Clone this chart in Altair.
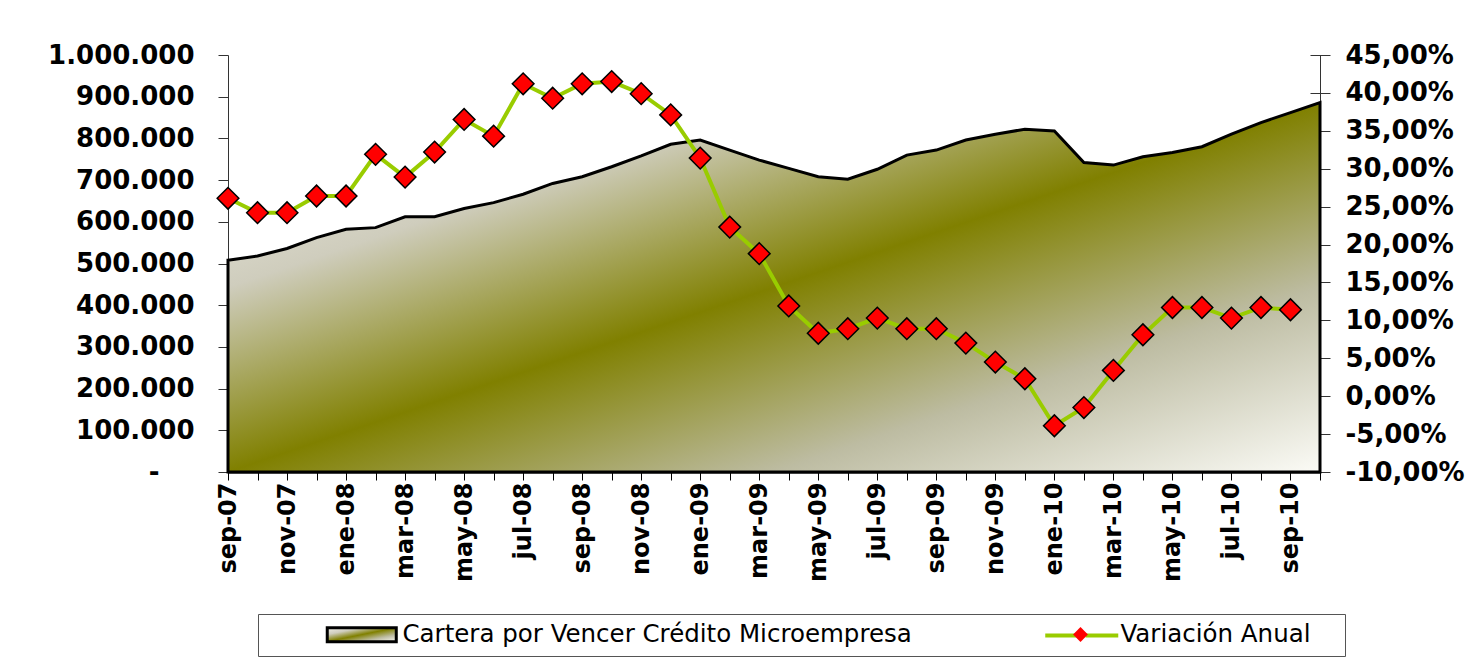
import altair as alt
import pandas as pd

months = ['sep-07', 'oct-07', 'nov-07', 'dic-07', 'ene-08', 'feb-08', 'mar-08', 'abr-08',
          'may-08', 'jun-08', 'jul-08', 'ago-08', 'sep-08', 'oct-08', 'nov-08', 'dic-08',
          'ene-09', 'feb-09', 'mar-09', 'abr-09', 'may-09', 'jun-09', 'jul-09', 'ago-09',
          'sep-09', 'oct-09', 'nov-09', 'dic-09', 'ene-10', 'feb-10', 'mar-10', 'abr-10',
          'may-10', 'jun-10', 'jul-10', 'ago-10', 'sep-10', 'oct-10']
cartera = [508000, 518000, 536000, 562000, 582000, 586000, 612000, 612000,
           632000, 646000, 666000, 692000, 708000, 732000, 758000, 786000,
           796000, 772000, 748000, 728000, 708000, 702000, 726000, 760000,
           772000, 796000, 810000, 822000, 818000, 742000, 736000, 756000,
           766000, 780000, 810000, 838000, 862000, 886000]
variacion = [26.1, 24.2, 24.2, 26.4, 26.4, 31.9, 28.9, 32.2,
             36.5, 34.3, 41.2, 39.3, 41.2, 41.5, 39.9, 37.1,
             31.4, 22.3, 18.8, 11.9, 8.3, 8.9, 10.3, 8.9,
             8.9, 7.0, 4.5, 2.3, -3.9, -1.5, 3.4, 8.1,
             11.7, 11.7, 10.3, 11.7, 11.4, None]
shown_labels = months[::2]
left_ticks = list(range(0, 1000001, 100000))
right_ticks = list(range(-10, 46, 5))

SERIE_A = "Cartera por Vencer Crédito Microempresa"
SERIE_B = "Variación Anual"

df = pd.DataFrame({"mes": months, "cartera": cartera, "variacion": variacion})
df["serie"] = SERIE_B
df["serie_pt"] = SERIE_B

FONT = "DejaVu Sans"
OLIVE_STOPS = [(0.0, "#f2f1ea"), (0.25, "#cfcdbd"), (0.5, "#808000"),
               (0.75, "#bdbca2"), (1.0, "#fbfbf6")]
grad = alt.Gradient(gradient="linear", x1=0, y1=0, x2=1, y2=1,
                    stops=[alt.GradientStop(offset=o, color=c) for o, c in OLIVE_STOPS])
grad_js = ("{gradient: 'linear', x1: 0, y1: 0, x2: 1, y2: 1, stops: ["
           + ", ".join("{offset: %s, color: '%s'}" % (o, c) for o, c in OLIVE_STOPS) + "]}")

shown_js = "[" + ",".join("'%s'" % m for m in shown_labels) + "]"

x_enc = alt.X(
    "mes:O", sort=months, scale=alt.Scale(type="point", padding=0),
    axis=alt.Axis(title=None, labelAngle=270, labelFont=FONT, labelFontWeight="bold",
                  labelFontSize=24, labelColor="black", labelPadding=2, tickSize=8,
                  tickColor="black", domainColor="black", domainWidth=2,
                  labelOverlap=False,
                  labelExpr="indexof(%s, datum.value) >= 0 ? datum.label : ''" % shown_js),
)

area = alt.Chart(df).mark_area(fill=grad, stroke="black", strokeWidth=3).encode(
    x=x_enc,
    y=alt.Y("cartera:Q", scale=alt.Scale(domain=[0, 1000000], nice=False),
            axis=alt.Axis(title=None, values=left_ticks, grid=False,
                          labelExpr="datum.value == 0 ? '-' : join(split(format(datum.value, ','), ','), '.')",
                          labelFont=FONT, labelFontWeight="bold", labelFontSize=26,
                          labelColor="black", tickSize=10, tickColor="#333",
                          domainColor="#333",
                          labelPadding={"condition": {"test": "datum.value == 0", "value": 59},
                                        "value": 24})),
)

U = 7.0  # legend symbol unit (sqrt(symbolSize)/2)
a0, a1 = 49 / U, 118 / U
pathA = "M%.2f,-1H%.2fV1H%.2fZ" % (a0, a1, a0)
b1 = a0 + 73 / U
bc = a0 + 36.5 / U
b_end = 332 / U  # extends the legend frame to the right without drawing
pathB = "M%.2f,0H%.2fM%.2f,0H%.2fM%.2f,0" % (a0, bc - 0.55, bc + 0.55, b1, b_end)
testA = "datum.value === '%s'" % SERIE_A

main_legend = alt.Legend(
    title=None, orient="none", legendX=30, legendY=559, direction="horizontal",
    padding=8, strokeColor="#555", labelFont=FONT, labelFontSize=24.5, labelColor="black",
    symbolSize=196, labelOffset=112, columnPadding=72, labelLimit=1000,
    symbolType=alt.ExprRef(expr="%s ? '%s' : '%s'" % (testA, pathA, pathB)),
    symbolFillColor=alt.ExprRef(expr="%s ? %s : 'transparent'" % (testA, grad_js)),
    symbolStrokeColor=alt.ExprRef(expr="%s ? 'black' : '#99cc00'" % testA),
    symbolStrokeWidth=alt.ExprRef(expr="%s ? 3 : 4" % testA),
)

line = alt.Chart(df).mark_line(strokeWidth=4).encode(
    x=x_enc,
    y=alt.Y("variacion:Q", scale=alt.Scale(domain=[-10, 45], nice=False, zero=False),
            axis=alt.Axis(orient="right", title=None, values=right_ticks, grid=False,
                          labelExpr="replace(replace(format(datum.value, '.2f'), '.', ','), '\u2212', '-') + '%'",
                          labelFont=FONT, labelFontWeight="bold", labelFontSize=26,
                          labelColor="black", tickSize=20, tickColor="#333",
                          offset=-10, domain=False, labelPadding=15)),
    color=alt.Color("serie:N", scale=alt.Scale(domain=[SERIE_A, SERIE_B],
                                               range=["black", "#99cc00"]),
                    legend=main_legend),
)

points = alt.Chart(df).mark_point(shape="diamond", filled=True, fill="#ff0000",
                                  stroke="black", strokeWidth=1.5, size=470,
                                  opacity=1).encode(
    x=x_enc,
    y=alt.Y("variacion:Q",
            axis=alt.Axis(orient="right", title=None, ticks=False, labels=False,
                          grid=False, domain=True, domainColor="#333")),
    shape=alt.Shape("serie_pt:N", scale=alt.Scale(domain=[SERIE_B], range=["diamond"]),
                    legend=alt.Legend(title=None, orient="none", legendX=844, legendY=571,
                                      padding=0, symbolSize=220, labelExpr="''",
                                      labelFontSize=1, labelOffset=0,
                                      symbolType="diamond",
                                      symbolFillColor="#ff0000",
                                      symbolStrokeColor="black",
                                      symbolStrokeWidth=1.5)),
)

right = alt.layer(line, points).resolve_axis(y="independent")

chart = alt.layer(area, right).resolve_scale(
    y="independent"
).properties(
    width=1092, height=417,
    autosize=alt.AutoSizeParams(type="none"),
    padding={"left": 220, "top": 47, "right": 150, "bottom": 185},
    background="white",
).configure_view(stroke="transparent")

chart.save("out.html", embed_options={"renderer": "svg", "actions": False})
